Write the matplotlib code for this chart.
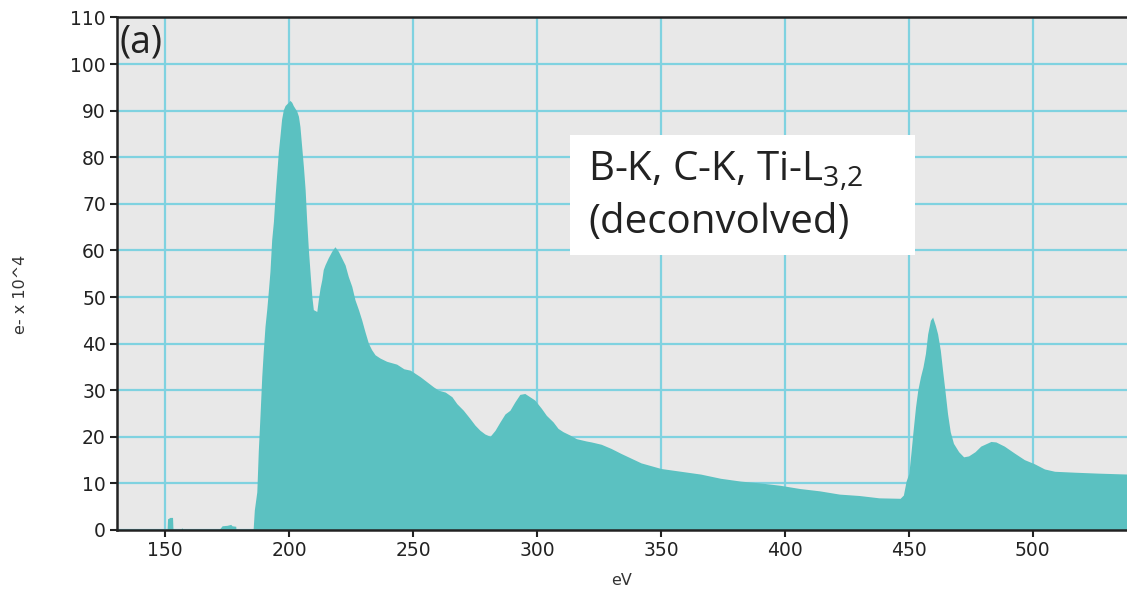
import matplotlib
matplotlib.use("Agg")
import matplotlib.pyplot as plt
from matplotlib.patches import Rectangle

plt.rcParams["mathtext.fontset"] = "custom"
plt.rcParams["mathtext.rm"] = "Open Sans"
plt.rcParams["mathtext.it"] = "Open Sans"

# ---- data ----
energy_ev = [130.0, 150.8, 151.0, 152.0, 153.0, 153.2, 156.5, 156.6, 157.0, 157.1,
             172.0, 172.1, 173.0, 175.0, 176.5, 177.0, 178.5, 178.6, 185.5, 186.0,
             187.0, 187.6, 188.3, 189.0, 189.6, 190.3, 191.0, 191.7, 192.3, 193.0,
             193.7, 194.4, 195.0, 195.7, 196.4, 197.0, 197.7, 198.4, 199.7, 200.4,
             201.1, 201.7, 203.1, 203.8, 204.4, 205.1, 205.8, 206.5, 207.1, 207.8,
             208.5, 209.2, 209.8, 211.2, 211.8, 212.5, 213.2, 213.8, 214.5, 215.8,
             217.2, 218.5, 219.9, 221.2, 222.6, 223.9, 225.3, 226.6, 228.0, 229.3,
             230.6, 232.0, 233.3, 234.7, 236.7, 239.4, 243.4, 246.3, 248.9, 250.9,
             252.9, 255.6, 258.3, 260.3, 263.0, 265.7, 267.7, 270.3, 273.0, 275.0,
             277.0, 279.0, 281.1, 283.1, 285.1, 287.1, 289.1, 291.1, 293.1, 295.1,
             297.1, 299.1, 301.8, 303.8, 306.5, 308.5, 310.5, 313.2, 315.9, 319.9,
             321.9, 325.9, 329.9, 334.0, 338.0, 342.0, 346.0, 350.0, 358.0, 366.0,
             374.0, 382.0, 390.0, 398.0, 406.0, 414.0, 422.0, 430.0, 438.0, 446.5,
             447.8, 448.9, 450.0, 450.9, 451.6, 452.7, 453.6, 454.7, 455.7, 456.7,
             457.6, 458.7, 459.6, 460.7, 461.6, 462.7, 463.6, 464.7, 465.6, 466.7,
             468.0, 470.1, 472.1, 474.1, 476.7, 479.0, 483.1, 485.1, 488.5, 492.6,
             496.6, 500.7, 504.7, 508.8, 516.9, 526.4, 538.5]
counts_e4 = [0.0, 0.0, 2.4, 2.7, 2.7, 0.0, 0.0, 0.4, 0.4, 0.0,
             0.0, 0.3, 0.9, 1.0, 1.2, 0.9, 0.8, 0.0, 0.0, 4.3,
             8.2, 17.0, 24.7, 33.0, 38.3, 43.7, 47.3, 51.6, 55.5, 62.3,
             66.2, 72.0, 76.3, 81.3, 84.9, 88.2, 90.2, 91.1, 91.8, 92.2,
             91.8, 91.1, 89.9, 88.8, 86.6, 82.3, 78.0, 73.0, 66.6, 60.2,
             55.1, 50.1, 47.3, 46.9, 49.4, 51.9, 53.7, 55.9, 56.9, 58.4,
             59.8, 60.8, 59.8, 58.4, 56.9, 54.4, 52.3, 49.4, 47.3, 45.1,
             42.6, 40.1, 38.7, 37.6, 36.9, 36.2, 35.6, 34.6, 34.3, 33.6,
             32.9, 31.8, 30.7, 30.0, 29.6, 28.6, 27.1, 25.7, 23.9, 22.5,
             21.4, 20.6, 20.1, 21.4, 23.2, 24.9, 25.7, 27.5, 29.1, 29.3,
             28.6, 27.9, 26.1, 24.6, 23.2, 21.8, 21.1, 20.4, 19.6, 19.1,
             18.9, 18.4, 17.5, 16.4, 15.4, 14.4, 13.8, 13.2, 12.6, 12.0,
             11.1, 10.5, 10.1, 9.6, 8.9, 8.4, 7.7, 7.4, 6.9, 6.8,
             7.5, 10.5, 12.1, 16.8, 20.7, 26.4, 30.0, 32.9, 35.0, 37.9,
             42.1, 45.0, 45.7, 43.9, 42.1, 38.6, 34.3, 29.3, 25.0, 21.1,
             18.6, 16.8, 15.7, 15.9, 16.8, 18.0, 19.0, 18.9, 18.0, 16.5,
             15.1, 14.2, 13.1, 12.6, 12.4, 12.2, 12.0]
x_ticks = [150, 200, 250, 300, 350, 400, 450, 500]
y_ticks = [0, 10, 20, 30, 40, 50, 60, 70, 80, 90, 100, 110]

fig = plt.figure(figsize=(11.27, 5.89), dpi=100)
ax = fig.add_axes([0.1038, 0.1002, 0.8962, 0.8701])
ax.set_facecolor("#e8e8e8")

ax.fill_between(energy_ev, counts_e4, 0, color="#5bc1c1", linewidth=0, zorder=2)

ax.set_xlim(130.6, 538.0)
ax.set_ylim(0, 110)
ax.set_xticks(x_ticks)
ax.set_yticks(y_ticks)
ax.grid(True, color="#7fd2e0", linewidth=1.6, zorder=1)
ax.set_axisbelow(True)

for s in ["left", "bottom", "top"]:
    ax.spines[s].set_color("#222222")
    ax.spines[s].set_linewidth(1.8)
ax.spines["right"].set_visible(False)
ax.tick_params(axis="both", direction="out", length=5, width=1.5,
               colors="#222222", labelsize=13.5, pad=3)

ax.set_xlabel("eV", fontsize=11.5, color="#333333", labelpad=9)
ax.set_ylabel("e- x 10^4", fontsize=11.5, color="#333333")
ax.yaxis.set_label_coords(-0.088, 0.459)

ax.text(0.002, 0.988, "(a)", transform=ax.transAxes, fontsize=27,
        family="Open Sans", color="#222222", va="top", ha="left")

ax.add_patch(Rectangle((0.4485, 0.537), 0.3415, 0.234, transform=ax.transAxes,
                       facecolor="white", edgecolor="none", zorder=4))
ax.text(0.4663, 0.680, "B-K, C-K, Ti-L$_\\mathregular{3{,}2}$",
        transform=ax.transAxes, fontsize=29, family="Open Sans",
        color="#222222", va="baseline", ha="left", zorder=5)
ax.text(0.4663, 0.580, "(deconvolved)",
        transform=ax.transAxes, fontsize=29, family="Open Sans",
        color="#222222", va="baseline", ha="left", zorder=5)

fig.savefig("out.png", dpi=100)
